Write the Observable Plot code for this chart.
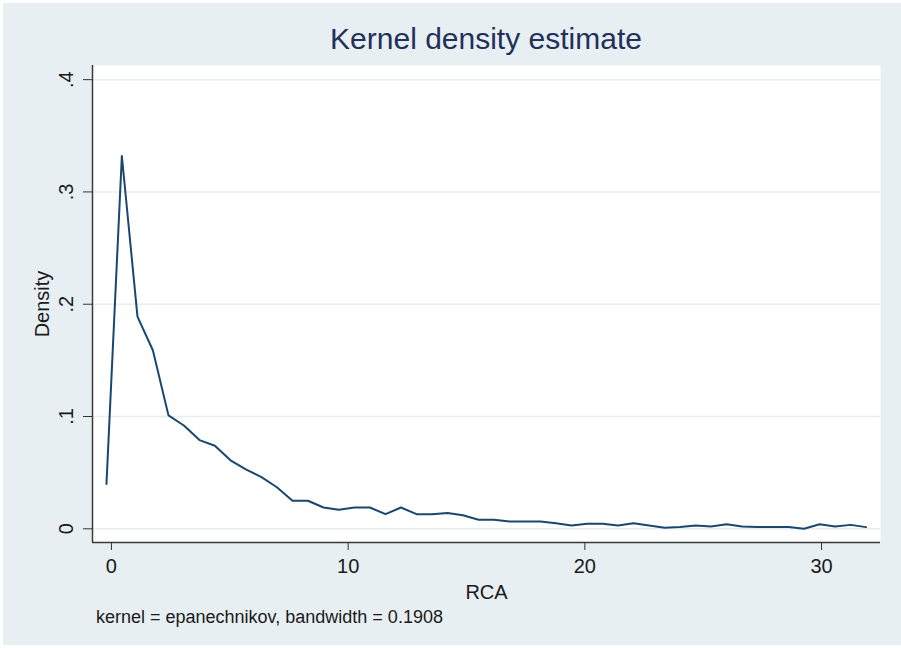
<!DOCTYPE html>
<html>
<head>
<meta charset="utf-8">
<script src="https://cdn.jsdelivr.net/npm/d3@7"></script>
<script src="https://cdn.jsdelivr.net/npm/@observablehq/plot@0.6"></script>
<style>
  html, body { margin: 0; padding: 0; background: #ffffff; width: 901px; height: 648px; overflow: hidden; }
  #bg { position: absolute; left: 3px; top: 3px; width: 898px; height: 642px; background: #e8eff3; }
  #title { position: absolute; left: 92px; width: 788px; top: 21px; text-align: center;
           font-family: "Liberation Sans", Arial, sans-serif; font-size: 30px; color: #22305a; line-height: 36px; }
  #chart { position: absolute; left: 0; top: 60px; }
  #caption { position: absolute; left: 96px; top: 606px; font-family: "Liberation Sans", Arial, sans-serif;
             font-size: 18px; color: #1a1a1a; line-height: 22px; }
</style>
</head>
<body>
<div id="bg"></div>
<div id="title">Kernel density estimate</div>
<div id="chart"></div>
<div id="caption">kernel = epanechnikov, bandwidth = 0.1908</div>
<script>
// RCA evaluation grid (50 points)
const rcaGrid = [-0.21, 0.44, 1.10, 1.75, 2.41, 3.06, 3.72, 4.37, 5.03, 5.68,
                 6.34, 6.99, 7.65, 8.30, 8.96, 9.61, 10.27, 10.92, 11.58, 12.23,
                 12.89, 13.54, 14.20, 14.85, 15.51, 16.16, 16.82, 17.47, 18.13, 18.78,
                 19.44, 20.09, 20.75, 21.40, 22.06, 22.71, 23.37, 24.02, 24.68, 25.33,
                 25.99, 26.64, 27.30, 27.95, 28.61, 29.26, 29.92, 30.57, 31.23, 31.88];
// Estimated density values
const densityValues = [0.040, 0.332, 0.189, 0.159, 0.101, 0.092, 0.079, 0.074, 0.061, 0.053,
                       0.046, 0.037, 0.025, 0.025, 0.019, 0.017, 0.019, 0.019, 0.013, 0.019,
                       0.013, 0.013, 0.014, 0.012, 0.008, 0.008, 0.0065, 0.0065, 0.0065, 0.005,
                       0.003, 0.0045, 0.0045, 0.003, 0.005, 0.003, 0.001, 0.0015, 0.003, 0.002,
                       0.004, 0.002, 0.0015, 0.0015, 0.0015, 0.000, 0.004, 0.002, 0.0035, 0.0015];
const xTicks = [0, 10, 20, 30];
const yTicks = [0, 0.1, 0.2, 0.3, 0.4];
const xDomain = [-0.80, 32.49];
const yDomain = [-0.0122, 0.4126];

const data = rcaGrid.map((x, i) => ({x, y: densityValues[i]}));
const fmtY = d => d === 0 ? "0" : String(d).replace(/^0/, "");

const chart = Plot.plot({
  width: 901,
  height: 570,
  marginLeft: 92,
  marginRight: 21,
  marginTop: 5,
  marginBottom: 88,
  style: { fontFamily: "Liberation Sans, Arial, sans-serif", background: "transparent", color: "#1a1a1a", overflow: "visible" },
  x: { domain: xDomain },
  y: { domain: yDomain },
  marks: [
    Plot.frame({ fill: "white", stroke: null }),
    Plot.ruleY(yTicks, { stroke: "#e6eef2", strokeWidth: 1.5 }),
    Plot.line(data, { x: "x", y: "y", stroke: "#1a476f", strokeWidth: 2 }),
    Plot.ruleX([xDomain[0]], { stroke: "#3a3a3a", strokeWidth: 1.5 }),
    Plot.ruleY([yDomain[0]], { stroke: "#3a3a3a", strokeWidth: 1.5 }),
    Plot.axisX({ ticks: xTicks, tickSize: 8, tickPadding: 8, fontSize: 20, stroke: "#333",
                 label: "RCA", labelAnchor: "center", labelArrow: "none", labelOffset: 56, tickFormat: d => String(d) }),
    Plot.axisY({ ticks: yTicks, tickSize: 9, tickPadding: 11, fontSize: 20, stroke: "#333", tickRotate: -90,
                 tickFormat: fmtY, label: "Density", labelAnchor: "center", labelArrow: "none", labelOffset: 58 })
  ]
});
document.getElementById("chart").appendChild(chart);
</script>
</body>
</html>
